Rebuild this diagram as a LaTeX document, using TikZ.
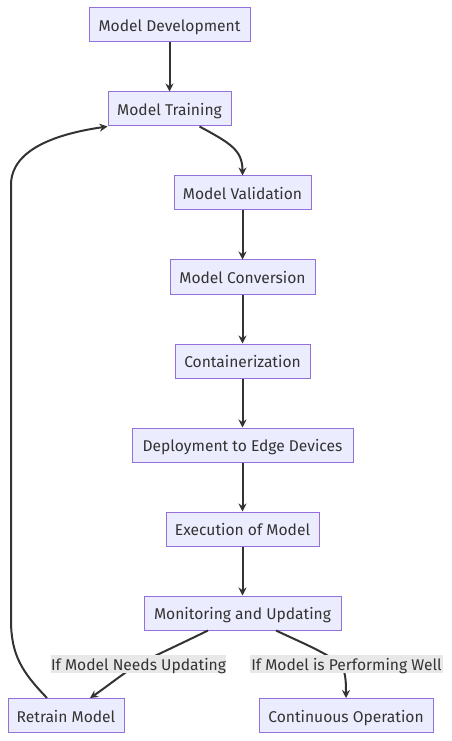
\documentclass[tikz,border=0pt]{standalone}
\usepackage{fontspec}
\setmainfont{Fira Sans}
\usetikzlibrary{arrows.meta,calc}
\definecolor{nodefill}{HTML}{ECECFF}
\definecolor{nodestroke}{HTML}{9370DB}
\definecolor{txt}{HTML}{333333}
\definecolor{edge}{HTML}{333333}
\definecolor{lblbg}{HTML}{E8E8E8}
\tikzset{
  box/.style={draw=nodestroke, fill=nodefill, line width=0.75pt, text=txt,
    inner sep=0pt, minimum height=25.5pt, text height=10pt, text depth=0pt,
    font=\fontsize{11.7}{13}\selectfont},
  lbl/.style={fill=lblbg, text=txt, inner sep=0pt, minimum height=13.5pt,
    text height=10pt, text depth=0pt, font=\fontsize{11.7}{13}\selectfont},
  conn/.style={draw=edge, line width=1.5pt, -{Stealth[length=6pt,width=6pt]}},
}
\begin{document}
\begin{tikzpicture}[x=0.75pt,y=-0.75pt]
\useasboundingbox (0,0) rectangle (452,741);
\node[box, minimum width=120.75pt] (md) at (169.5,25) {Model Development};
\node[box, minimum width=92.25pt] (mt) at (169.5,109) {Model Training};
\node[box, minimum width=102.75pt] (mv) at (242.5,193) {Model Validation};
\node[box, minimum width=108.75pt] (mc) at (242.5,277) {Model Conversion};
\node[box, minimum width=101.25pt] (ct) at (242.5,361) {Containerization};
\node[box, minimum width=165.75pt] (dp) at (242.5,445) {Deployment to Edge Devices};
\node[box, minimum width=114.75pt] (ex) at (242.5,529) {Execution of Model};
\node[box, minimum width=147.75pt] (mo) at (242.5,613) {Monitoring and Updating};
\node[box, minimum width=87pt] (rt) at (66,715.5) {Retrain Model};
\node[box, minimum width=130.5pt] (co) at (346,715.5) {Continuous Operation};

\draw[conn] (md) -- (mt);
\draw[conn] ($(mt.south)+(30,0)$) .. controls (230,143) and (242.5,150) .. (mv.north);
\draw[conn] (mv) -- (mc);
\draw[conn] (mc) -- (ct);
\draw[conn] (ct) -- (dp);
\draw[conn] (dp) -- (ex);
\draw[conn] (ex) -- (mo);

\draw[conn] ($(mo.south)+(-34.5,0)$) .. controls (170,649) and (150,658) .. (138.5,664)
  .. controls (125,672) and (105,688) .. ($(rt.north)+(24,0)$);
\draw[conn] ($(mo.south)+(33.5,0)$) .. controls (300,642) and (330,654) .. (342,666)
  .. controls (346,674) and (346,685) .. (co.north);
\draw[conn] ($(rt.north)+(-19,0)$) .. controls (22,672) and (11,655) .. (11,620)
  -- (11,185) .. controls (11,150) and (55,134) .. (mt.south west);

\node[lbl, minimum width=131.25pt] (l1) at (138.5,664) {If Model Needs Updating};
\node[lbl, minimum width=144.75pt] (l2) at (346.5,664) {If Model is Performing Well};
\end{tikzpicture}
\end{document}
